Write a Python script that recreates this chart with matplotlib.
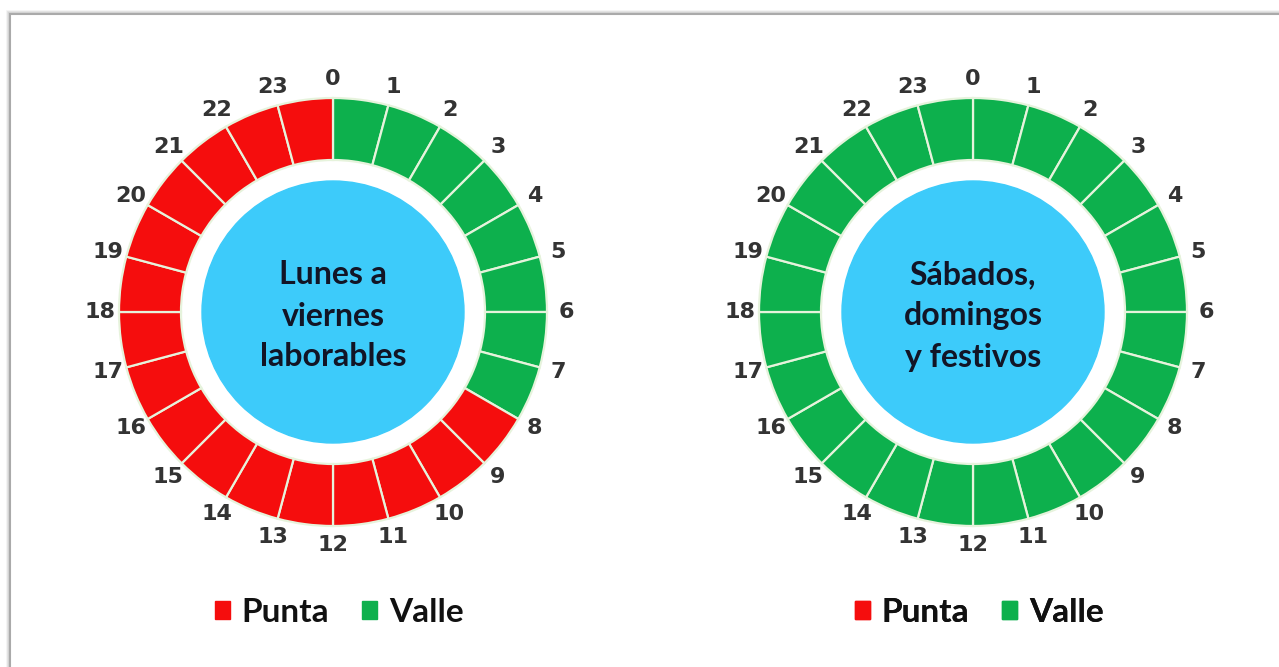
import math
import matplotlib
matplotlib.use("Agg")
import matplotlib.pyplot as plt
from matplotlib.patches import Patch, Rectangle

# ---- data ----
hours = list(range(24))
tariff_weekday = ["Valle"] * 8 + ["Punta"] * 16
tariff_weekend = ["Valle"] * 24
center_titles = ["Lunes a\nviernes\nlaborables", "Sábados,\ndomingos\ny festivos"]
legend_labels = ["Punta", "Valle"]
tariff_colors = {"Punta": "#F50D0D", "Valle": "#0DB04D"}

W, H = 1279, 667
fig = plt.figure(figsize=(W / 100, H / 100), dpi=100)
ax = fig.add_axes([0, 0, 1, 1])

FONT = ["Lato", "DejaVu Sans"]

centers_x = [333, 973]
cy = H - 312
R_out = 214
ring_w = 62
R_blue = 131
R_lab = 233

for cx, tariffs, title in zip(centers_x, [tariff_weekday, tariff_weekend], center_titles):
    ax.pie([1] * len(hours), colors=[tariff_colors[t] for t in tariffs],
           center=(cx, cy), radius=R_out, startangle=90, counterclock=False,
           wedgeprops=dict(width=ring_w, edgecolor="#e6f3dc", linewidth=1.6),
           frame=True)
    ax.add_patch(plt.Circle((cx, cy), R_blue, color="#3DCBFA", zorder=3))
    ax.text(cx, cy - 4, title, ha="center", va="center", fontsize=23,
            fontweight="bold", color="#121526", family=FONT,
            linespacing=1.5, zorder=4)
    for h in hours:
        ang = math.radians(90 - 15 * h)
        ax.text(cx + R_lab * math.cos(ang), cy + R_lab * math.sin(ang), str(h),
                ha="center", va="center", fontsize=16, fontweight="bold",
                color="#333333", family=["DejaVu Sans"], zorder=4)
    handles = [Patch(color=tariff_colors[l], label=l) for l in legend_labels]
    leg = ax.legend(handles=handles, loc="center", bbox_to_anchor=(cx + 6, H - 612),
                    bbox_transform=ax.transData, ncol=2, frameon=False,
                    handlelength=0.45, handleheight=0.45, handletextpad=0.35,
                    columnspacing=1.0,
                    prop=dict(family=FONT, weight="bold", size=24))
    for t in leg.get_texts():
        t.set_color("#111111")
    ax.add_artist(leg)

# frame with soft shadow
for i, a in enumerate([0.05, 0.08, 0.12]):
    ax.add_patch(Rectangle((10 - 3 + i, -20), W + 40, H - 14 + 20 + 3 - i,
                           fill=False, ec="#000000", alpha=a, lw=1.2, zorder=0))
ax.add_patch(Rectangle((10, -20), W + 40, H - 14 + 20, fill=False,
                       ec="#aaaaaa", lw=1.5, zorder=1))

ax.set_xlim(0, W)
ax.set_ylim(0, H)
ax.set_aspect("equal")
ax.axis("off")
fig.savefig("out.png", dpi=100)
